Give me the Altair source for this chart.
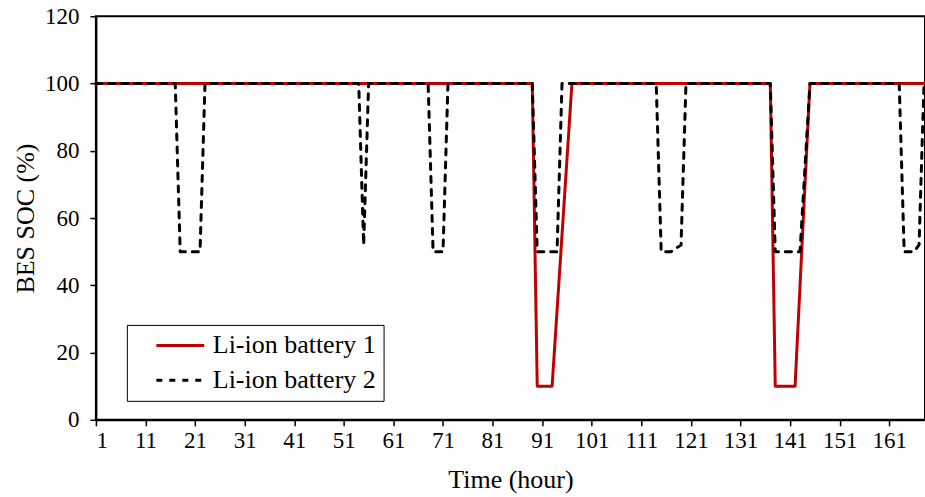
import altair as alt
import pandas as pd

hours = list(range(1, 169))

battery1 = [
    100, 100, 100, 100, 100, 100, 100, 100, 100, 100, 100, 100, 100, 100, 100, 100, 100, 100, 100, 100, 100, 100, 100, 100,
    100, 100, 100, 100, 100, 100, 100, 100, 100, 100, 100, 100, 100, 100, 100, 100, 100, 100, 100, 100, 100, 100, 100, 100,
    100, 100, 100, 100, 100, 100, 100, 100, 100, 100, 100, 100, 100, 100, 100, 100, 100, 100, 100, 100, 100, 100, 100, 100,
    100, 100, 100, 100, 100, 100, 100, 100, 100, 100, 100, 100, 100, 100, 100, 100, 100, 10, 10, 10, 10, 32.5, 55, 77.5,
    100, 100, 100, 100, 100, 100, 100, 100, 100, 100, 100, 100, 100, 100, 100, 100, 100, 100, 100, 100, 100, 100, 100, 100,
    100, 100, 100, 100, 100, 100, 100, 100, 100, 100, 100, 100, 100, 100, 100, 100, 100, 10, 10, 10, 10, 10, 40, 70,
    100, 100, 100, 100, 100, 100, 100, 100, 100, 100, 100, 100, 100, 100, 100, 100, 100, 100, 100, 100, 100, 100, 100, 100,
]

battery2 = [
    100, 100, 100, 100, 100, 100, 100, 100, 100, 100, 100, 100, 100, 100, 100, 100, 100, 50, 50, 50, 50, 50, 100, 100,
    100, 100, 100, 100, 100, 100, 100, 100, 100, 100, 100, 100, 100, 100, 100, 100, 100, 100, 100, 100, 100, 100, 100, 100,
    100, 100, 100, 100, 100, 100, 52, 100, 100, 100, 100, 100, 100, 100, 100, 100, 100, 100, 100, 100, 50, 50, 50, 100,
    100, 100, 100, 100, 100, 100, 100, 100, 100, 100, 100, 100, 100, 100, 100, 100, 100, 50, 50, 50, 50, 50, 100, 100,
    100, 100, 100, 100, 100, 100, 100, 100, 100, 100, 100, 100, 100, 100, 100, 100, 100, 100, 50, 50, 50, 51, 52, 100,
    100, 100, 100, 100, 100, 100, 100, 100, 100, 100, 100, 100, 100, 100, 100, 100, 100, 50, 50, 50, 50, 50, 50, 75,
    100, 100, 100, 100, 100, 100, 100, 100, 100, 100, 100, 100, 100, 100, 100, 100, 100, 100, 100, 50, 50, 50, 52, 100,
]

series_names = ["Li-ion battery 1", "Li-ion battery 2"]
series_colors = ["#C00000", "#000000"]
series_dash = [[1, 0], [6, 7]]

x_ticks = [1, 11, 21, 31, 41, 51, 61, 71, 81, 91, 101, 111, 121, 131, 141, 151, 161]
y_ticks = [0, 20, 40, 60, 80, 100, 120]

rows = []
for name, vals in zip(series_names, [battery1, battery2]):
    for h, v in zip(hours, vals):
        rows.append({"hour": h, "soc": v, "series": name})
df = pd.DataFrame(rows)

FONT = "Liberation Serif"

legend = alt.Legend(
    title=None,
    orient="none",
    legendX=31,
    legendY=309,
    padding=7,
    strokeColor="black",
    fillColor="white",
    labelFont=FONT,
    labelFontSize=26,
    labelColor="black",
    labelLimit=400,
    symbolSize=576,
    symbolStrokeWidth=3,
    symbolType="M-2,0H2",
    symbolOffset=33,
    rowPadding=8,
    labelOffset=19,
)

chart = (
    alt.Chart(df)
    .mark_line(strokeWidth=3, strokeJoin="round", strokeCap="round")
    .encode(
        x=alt.X(
            "hour:Q",
            scale=alt.Scale(domain=[1, 168.2], nice=False, zero=False),
            axis=alt.Axis(
                values=x_ticks,
                title="Time (hour)",
                grid=False,
                tickSize=6,
                labelPadding=4,
                titlePadding=14,
            ),
        ),
        y=alt.Y(
            "soc:Q",
            scale=alt.Scale(domain=[0, 120], nice=False),
            axis=alt.Axis(
                values=y_ticks,
                title="BES SOC (%)",
                grid=False,
                tickSize=6,
                labelPadding=11,
                titlePadding=6,
            ),
        ),
        color=alt.Color(
            "series:N",
            scale=alt.Scale(domain=series_names, range=series_colors),
            legend=legend,
        ),
        strokeDash=alt.StrokeDash(
            "series:N",
            scale=alt.Scale(domain=series_names, range=series_dash),
            legend=legend,
        ),
    )
    .properties(
        width=830,
        height=404,
        autosize=alt.AutoSizeParams(type="none"),
        padding={"left": 96, "top": 16, "right": 0, "bottom": 77},
    )
    .configure_view(stroke="black", strokeWidth=2)
    .configure_axis(
        domainColor="black",
        domainWidth=2,
        tickColor="black",
        tickWidth=1.5,
        labelFont=FONT,
        labelFontSize=23,
        labelColor="black",
        titleFont=FONT,
        titleFontSize=26,
        titleFontWeight="normal",
        titleColor="black",
    )
)

chart.save("out.html", embed_options={"renderer": "svg", "actions": False})
